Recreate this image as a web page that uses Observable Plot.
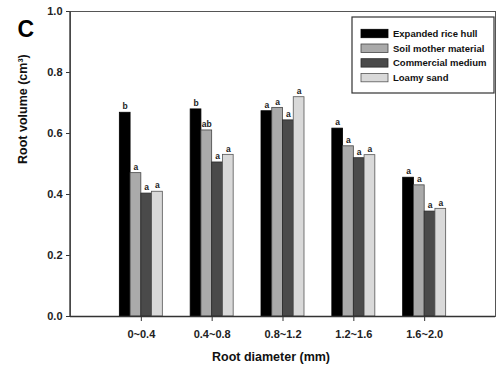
<!DOCTYPE html>
<html>
<head>
<meta charset="utf-8">
<script src="https://cdn.jsdelivr.net/npm/d3@7"></script>
<script src="https://cdn.jsdelivr.net/npm/@observablehq/plot@0.6"></script>
<style>
  html, body { margin: 0; padding: 0; background: #fff; }
  #chart svg { display: block; font-family: Arial, "Liberation Sans", sans-serif; }
</style>
</head>
<body>
<div id="chart"></div>
<script>
const categories = ["0~0.4", "0.4~0.8", "0.8~1.2", "1.2~1.6", "1.6~2.0"];
const series = ["Expanded rice hull", "Soil mother material", "Commercial medium", "Loamy sand"];
const riceHull   = [0.668, 0.679, 0.673, 0.616, 0.455];
const soilMother = [0.470, 0.610, 0.684, 0.558, 0.430];
const commercial = [0.403, 0.505, 0.643, 0.519, 0.344];
const loamySand  = [0.409, 0.530, 0.719, 0.529, 0.353];
const lettersRice       = ["b", "b", "a", "a", "a"];
const lettersSoil       = ["a", "ab", "a", "a", "a"];
const lettersCommercial = ["a", "a", "a", "a", "a"];
const lettersLoamy      = ["a", "a", "a", "a", "a"];
const yTicks = [0, 0.2, 0.4, 0.6, 0.8, 1.0];

const seriesValues = [riceHull, soilMother, commercial, loamySand];
const seriesLetters = [lettersRice, lettersSoil, lettersCommercial, lettersLoamy];
const colors = ["#000000", "#aaaaaa", "#4a4a4a", "#d9d9d9"];
const strokes = ["#000000", "#444444", "#2a2a2a", "#555555"];

const W = 500, H = 369;
const mL = 70, mR = 5, mT = 11, mB = 53;
const padInner = 0.393, padOuter = 0.6965;
const step = (W - mL - mR) / (categories.length - padInner + 2 * padOuter);
const bandwidth = step * (1 - padInner);
const barW = bandwidth / series.length;

const marks = [];
series.forEach((s, i) => {
  const rows = categories.map((c, j) => ({cat: c, value: seriesValues[i][j], letter: seriesLetters[i][j], series: s}));
  marks.push(Plot.barY(rows, {
    x: "cat", y: "value",
    fill: colors[i], stroke: strokes[i], strokeWidth: 0.8,
    insetLeft: i * barW, insetRight: (series.length - 1 - i) * barW
  }));
  marks.push(Plot.text(rows, {
    x: "cat", y: "value", text: "letter",
    dx: (i - (series.length - 1) / 2) * barW, dy: -6,
    fontSize: 8.5, fontWeight: "bold", fill: "#222"
  }));
});

const chart = Plot.plot({
  width: W, height: H,
  marginLeft: mL, marginRight: mR, marginTop: mT, marginBottom: mB,
  style: {fontFamily: "Arial, 'Liberation Sans', sans-serif", background: "#fff", overflow: "visible"},
  x: {domain: categories, paddingInner: padInner, paddingOuter: padOuter, round: false, label: null},
  y: {domain: [0, 1], label: null},
  marks: [
    Plot.frame({stroke: "#555", strokeWidth: 1}),
    ...marks,
    Plot.ruleY([0], {stroke: "#333", strokeWidth: 1.5}),
    Plot.axisX({tickSize: 5, tickPadding: 9, fontSize: 11, fontWeight: "bold", fill: "#222", stroke: "#333", label: null}),
    Plot.axisY({ticks: yTicks, tickFormat: d3.format(".1f"), tickSize: 4, tickPadding: 4, fontSize: 11, fontWeight: "bold", fill: "#222", stroke: "#333", label: null}),
    Plot.text(["Root diameter (mm)"], {frameAnchor: "bottom", dx: -12, dy: 44, fontSize: 12.5, fontWeight: "bold", fill: "#111"}),
    Plot.text(["Root volume (cm³)"], {frameAnchor: "left", dx: -48, rotate: -90, fontSize: 12.5, fontWeight: "bold", fill: "#111"}),
    Plot.text(["C"], {frameAnchor: "top-left", dx: -53, dy: 9, fontSize: 23, fontWeight: "bold", fill: "#000", textAnchor: "start"})
  ]
});

const svg = d3.select(chart);
// left axis line (darker)
svg.append("line")
  .attr("x1", mL).attr("x2", mL).attr("y1", mT).attr("y2", H - mB)
  .attr("stroke", "#444").attr("stroke-width", 1.5);

// legend
const lg = svg.append("g")
  .attr("font-family", "Arial, 'Liberation Sans', sans-serif")
  .attr("text-anchor", "start");
const lx = 352, ly = 17, lw = 142, lh = 76;
lg.append("rect").attr("x", lx).attr("y", ly).attr("width", lw).attr("height", lh)
  .attr("fill", "#fff").attr("stroke", "#333").attr("stroke-width", 1.2);
series.forEach((s, i) => {
  const cy = 33.5 + i * 14.7;
  lg.append("rect").attr("x", 361).attr("y", cy - 4.2).attr("width", 27).attr("height", 8.4)
    .attr("fill", colors[i]).attr("stroke", strokes[i]).attr("stroke-width", 0.8);
  lg.append("text").attr("x", 393).attr("y", cy).attr("dy", "0.35em")
    .attr("text-anchor", "start")
    .attr("font-size", 9.5).attr("font-weight", "bold").attr("fill", "#111").text(s);
});

document.getElementById("chart").appendChild(chart);
</script>
</body>
</html>
